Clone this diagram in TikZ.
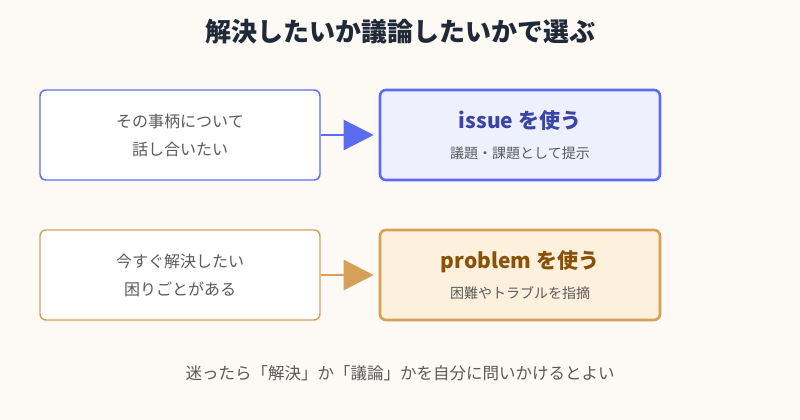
\documentclass[tikz,border=0pt]{standalone}
\usepackage{fontspec}
\setmainfont{Noto Sans CJK JP}
\usetikzlibrary{arrows.meta}
\definecolor{bg}{HTML}{FDF9F5}
\definecolor{bluel}{HTML}{5B6CF0}
\definecolor{bluef}{HTML}{EEF1FD}
\definecolor{bluet}{HTML}{3B45A8}
\definecolor{orgl}{HTML}{D6A058}
\definecolor{orgf}{HTML}{FDF0DC}
\definecolor{orgt}{HTML}{8A5208}
\definecolor{txt}{HTML}{5A5A5A}
\definecolor{ttl}{HTML}{1F2937}
\tikzset{
  box/.style={draw,rounded corners=6pt,minimum width=280pt,minimum height=90pt,align=center,fill=white,line width=1.4pt,text=txt,font=\fontsize{16}{28}\selectfont},
  usebox/.style={box,line width=2.6pt,font=\fontsize{14}{30}\selectfont},
  arr/.style={line width=2.5pt,-{Triangle[length=30pt,width=30pt]},shorten >=5pt}
}
\begin{document}
\begin{tikzpicture}[x=1pt,y=-1pt]
\fill[bg] (0,0) rectangle (800,420);
\useasboundingbox (0,0) rectangle (800,420);
\node[text=ttl,font=\fontsize{26}{30}\selectfont\bfseries] (title) at (400,32) {解決したいか議論したいかで選ぶ};
% row 1
\node[box,draw=bluel] (topic) at (180,135) {その事柄について\\話し合いたい};
\node[usebox,draw=bluel,fill=bluef] (issue) at (520,135) {{\fontsize{21}{30}\selectfont\bfseries\color{bluet}issue を使う}\\議題・課題として提示};
\draw[arr,bluel] (topic.east) -- (issue.west);
% row 2
\node[box,draw=orgl] (trouble) at (180,275) {今すぐ解決したい\\困りごとがある};
\node[usebox,draw=orgl,fill=orgf] (problem) at (520,275) {{\fontsize{21}{30}\selectfont\bfseries\color{orgt}problem を使う}\\困難やトラブルを指摘};
\draw[arr,orgl] (trouble.east) -- (problem.west);
\node[text=txt,font=\fontsize{16.5}{20}\selectfont] (note) at (400,373) {迷ったら「解決」か「議論」かを自分に問いかけるとよい};
\end{tikzpicture}
\end{document}
